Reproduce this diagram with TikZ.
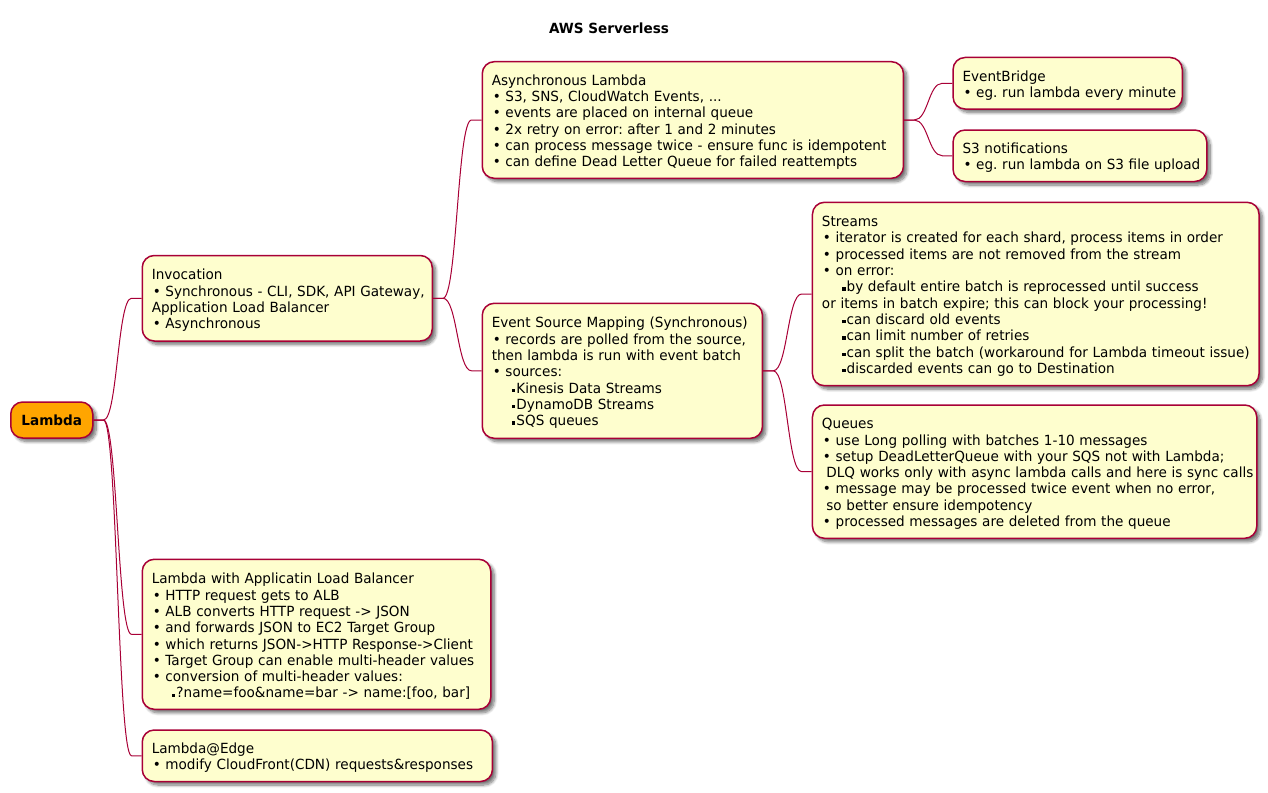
\documentclass[tikz,border=0pt]{standalone}
\usepackage{fontspec}
\setmainfont{DejaVu Sans}[FakeStretch=0.97]
\usetikzlibrary{calc,shadows.blur}
\definecolor{pbord}{HTML}{A80036}
\definecolor{pfill}{HTML}{FEFECE}
\definecolor{porange}{HTML}{FFA500}
\newcommand\bu{\hspace*{1pt}•\ }
\newcommand\sbu{\hspace*{20.5pt}\raisebox{1.2pt}{\rule{3.2pt}{3.2pt}}\hspace{1pt}}
\newcommand\lsp{\hspace*{0.318em}}
\tikzset{
  mmshadow/.style={blur shadow={shadow xshift=3.5pt, shadow yshift=-3.5pt, shadow blur radius=3pt, shadow blur steps=8, shadow opacity=55}},
  box/.style={draw=pbord, line width=1.5pt, fill=pfill, rounded corners=12pt, anchor=west,
    inner xsep=0pt, inner ysep=0pt, align=left, font=\fontsize{14}{16.3}\selectfont,
    execute at begin node={\leftskip=9.5pt\rightskip=-60pt plus 1fil\frenchspacing\hyphenpenalty=10000\rule{0pt}{15pt}}, mmshadow},
  rootbox/.style={draw=pbord, line width=1.5pt, fill=porange, rounded corners=12pt, anchor=west,
    inner sep=0pt, align=center, font=\bfseries\fontsize{14}{16.3}\selectfont, mmshadow},
  conn/.style={draw=pbord, line width=1pt},
}
\newcommand\mmnode[6]{%
  \node[box, text width={#4-#2}, minimum height={#5-#3}] (#1) at ({#2},{(#3+#5)/2}) {#6};}
\newcommand\conn[2]{%
  \path ([xshift=10pt]#1.east) coordinate (p1) ([xshift=-10pt]#2.west) coordinate (p2);
  \path ($(p1)!0.5!(p2)$) coordinate (pm);
  \draw[conn] (#1.east) -- (p1) .. controls (pm |- p1) and (pm |- p2) .. (p2) -- (#2.west);}
\begin{document}
\begin{tikzpicture}[x=1pt,y=-1pt]
\useasboundingbox (0,0) rectangle (1268,792);
\node[font=\bfseries\fontsize{14}{16.3}\selectfont] (title) at (609,28) {AWS Serverless};
\node[rootbox, minimum width=82pt, minimum height=36pt] (lambda) at (10,420) {Lambda};
\mmnode{inv}{141.5}{255.5}{431.5}{341}{Invocation\\
\bu Synchronous - CLI, SDK, API Gateway,\\
Application Load Balancer\\
\bu Asynchronous}
\mmnode{async}{481.5}{61.7}{902.7}{178.3}{Asynchronous Lambda\\
\bu S3, SNS, CloudWatch Events, ...\\
\bu events are placed on internal queue\\
\bu 2x retry on error: after 1 and 2 minutes\\
\bu can process message twice - ensure func is idempotent\\
\bu can define Dead Letter Queue for failed reattempts}
\mmnode{eb}{952.3}{57.5}{1181.5}{109}{EventBridge\\
\bu eg. run lambda every minute}
\mmnode{s3}{952.3}{130}{1206}{181.5}{S3 notifications\\
\bu eg. run lambda on S3 file upload}
\mmnode{esm}{481.5}{303.3}{761.7}{438.3}{Event Source Mapping (Synchronous)\\
\bu records are polled from the source,\\
then lambda is run with event batch\\
\bu sources:\\
\sbu Kinesis Data Streams\\
\sbu DynamoDB Streams\\
\sbu SQS queues}
\mmnode{streams}{811.7}{202.3}{1258.3}{385.7}{Streams\\
\bu iterator is created for each shard, process items in order\\
\bu processed items are not removed from the stream\\
\bu on error:\\
\sbu by default entire batch is reprocessed until success\\
or items in batch expire; this can block your processing!\\
\sbu can discard old events\\
\sbu can limit number of retries\\
\sbu can split the batch (workaround for Lambda timeout issue)\\
\sbu discarded events can go to Destination}
\mmnode{queues}{811.7}{405}{1256}{538.3}{Queues\\
\bu use Long polling with batches 1-10 messages\\
\bu setup DeadLetterQueue with your SQS not with Lambda;\\
\lsp DLQ works only with async lambda calls and here is sync calls\\
\bu message may be processed twice event when no error,\\
\lsp so better ensure idempotency\\
\bu processed messages are deleted from the queue}
\mmnode{alb}{141.5}{559.3}{490}{709.3}{Lambda with Applicatin Load Balancer\\
\bu HTTP request gets to ALB\\
\bu ALB converts HTTP request -> JSON\\
\bu and forwards JSON to EC2 Target Group\\
\bu which returns JSON->HTTP Response->Client\\
\bu Target Group can enable multi-header values\\
\bu conversion of multi-header values:\\
\sbu ?name=foo\&name=bar -> name:[foo, bar]}
\mmnode{edge}{141.5}{730}{491.7}{781.5}{Lambda@Edge\\
\bu modify CloudFront(CDN) requests\&responses}
\conn{lambda}{inv}
\conn{lambda}{alb}
\conn{lambda}{edge}
\conn{inv}{async}
\conn{inv}{esm}
\conn{async}{eb}
\conn{async}{s3}
\conn{esm}{streams}
\conn{esm}{queues}
\end{tikzpicture}
\end{document}
